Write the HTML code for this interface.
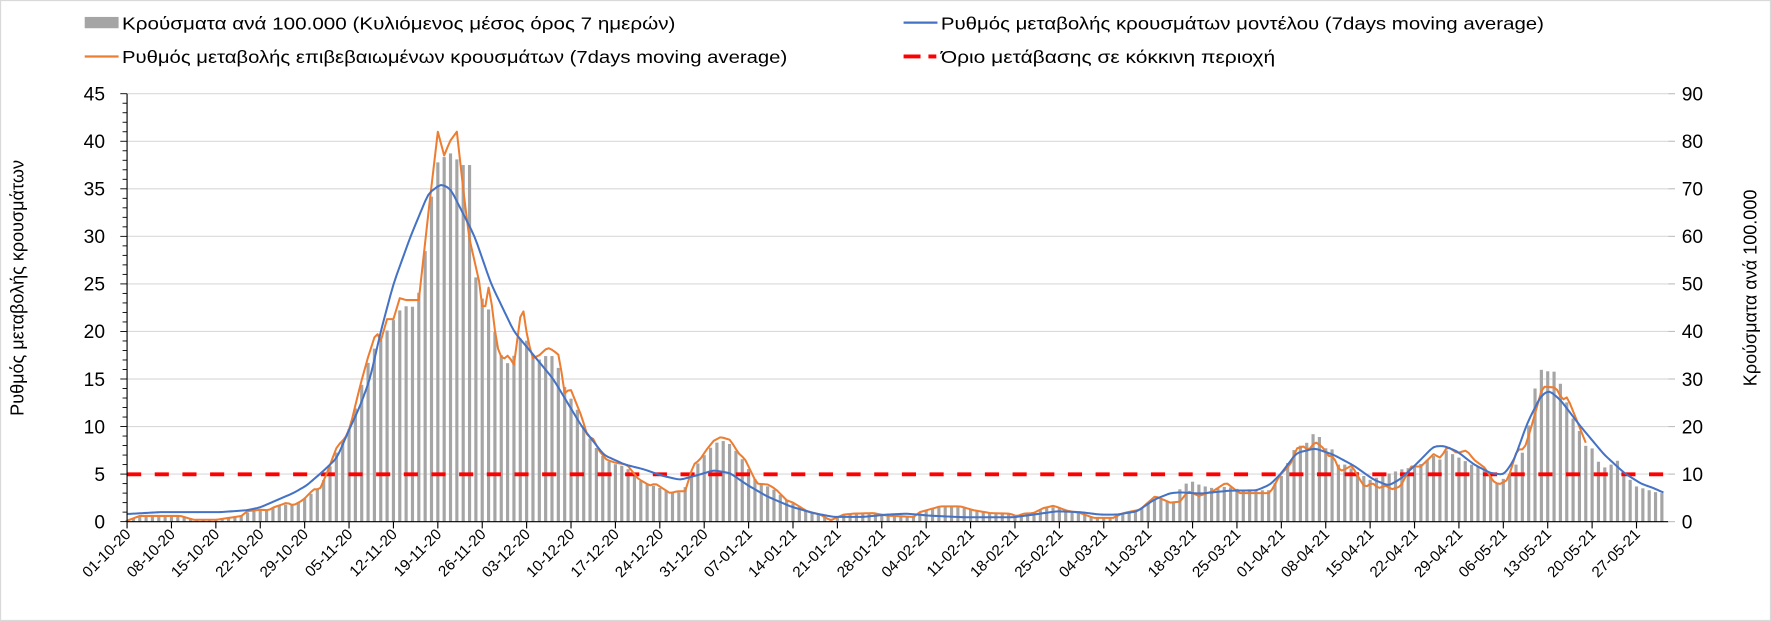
<!DOCTYPE html>
<html><head><meta charset="utf-8"><style>
html,body{margin:0;padding:0;background:#fff;}
svg{display:block;font-family:"Liberation Sans",Arial,sans-serif;}
</style></head><body>
<svg id="c" width="1771" height="621" viewBox="0 0 1568 550" preserveAspectRatio="none" xmlns="http://www.w3.org/2000/svg">
<rect x="0.5" y="0.5" width="1567" height="549" fill="#fff" stroke="#d9d9d9"/>
<g id="grid"></g>
<g id="bars" fill="#a5a5a5"></g>
<line x1="112.5" y1="420.1" x2="1477" y2="420.1" stroke="#ff0000" stroke-width="3.5" stroke-dasharray="12.5 12"/>
<path id="orange" fill="none" stroke="#ed7d31" stroke-width="1.8" stroke-linejoin="round"/>
<path id="blue" fill="none" stroke="#4472c4" stroke-width="1.8" stroke-linejoin="round"/>
<g id="axes"></g>
<g font-size="15.5" fill="#000">
<rect x="75" y="15" width="30" height="10" fill="#a5a5a5"/>
<text x="108" y="26" textLength="490" lengthAdjust="spacingAndGlyphs">Κρούσματα ανά 100.000 (Κυλιόμενος μέσος όρος 7 ημερών)</text>
<line x1="800" y1="20" x2="830" y2="20" stroke="#4472c4" stroke-width="2"/>
<text x="833" y="26" textLength="534" lengthAdjust="spacingAndGlyphs">Ρυθμός μεταβολής κρουσμάτων μοντέλου (7days moving average)</text>
<line x1="75" y1="50" x2="105" y2="50" stroke="#ed7d31" stroke-width="2"/>
<text x="108" y="56" textLength="589" lengthAdjust="spacingAndGlyphs">Ρυθμός μεταβολής επιβεβαιωμένων κρουσμάτων (7days moving average)</text>
<line x1="800" y1="50" x2="815" y2="50" stroke="#ff0000" stroke-width="3.5"/>
<line x1="822" y1="50" x2="829" y2="50" stroke="#ff0000" stroke-width="3.5"/>
<text x="833" y="56" textLength="296" lengthAdjust="spacingAndGlyphs">Όριο μετάβασης σε κόκκινη περιοχή</text>
<text transform="translate(21,255) rotate(-90)" text-anchor="middle" font-size="16">Ρυθμός μεταβολής κρουσμάτων</text>
<text transform="translate(1555,255) rotate(-90)" text-anchor="middle" font-size="16">Κρούσματα ανά 100.000</text>
</g>
</svg>
<script>
(function(){
var NS="http://www.w3.org/2000/svg";
var X0=112.5,X1=1477,Y0=462,YT=83,N=243,DW=(X1-X0)/N;
function Y(v){return Y0-(Y0-YT)*v/45;}
function X(d){return X0+d*DW;}
function el(p,t,a,txt){var e=document.createElementNS(NS,t);for(var k in a)e.setAttribute(k,a[k]);if(txt!=null)e.textContent=txt;p.appendChild(e);return e;}
var grid=document.getElementById('grid'),axes=document.getElementById('axes');
for(var v=5;v<=45;v+=5){el(grid,'line',{x1:X0,x2:X1,y1:Y(v),y2:Y(v),stroke:'#d9d9d9','stroke-width':1});}
el(axes,'line',{x1:X0,x2:X0,y1:YT,y2:Y0,stroke:'#000','stroke-width':1});
el(axes,'line',{x1:X0,x2:X1,y1:Y0,y2:Y0,stroke:'#000','stroke-width':1});
for(var v=0;v<=45;v++){var maj=v%5==0;el(axes,'line',{x1:X0-(maj?6:4),x2:X0,y1:Y(v),y2:Y(v),stroke:'#000','stroke-width':0.8});
 if(maj){el(axes,'text',{x:93,y:Y(v)+6,'text-anchor':'end','font-size':17},String(v));
  el(axes,'line',{x1:X1,x2:X1+6,y1:Y(v),y2:Y(v),stroke:'#bfbfbf','stroke-width':1});
  el(axes,'text',{x:1489,y:Y(v)+6,'font-size':17},String(v*2));}}
var labs=["01-10-20","08-10-20","15-10-20","22-10-20","29-10-20","05-11-20","12-11-20","19-11-20","26-11-20","03-12-20","10-12-20","17-12-20","24-12-20","31-12-20","07-01-21","14-01-21","21-01-21","28-01-21","04-02-21","11-02-21","18-02-21","25-02-21","04-03-21","11-03-21","18-03-21","25-03-21","01-04-21","08-04-21","15-04-21","22-04-21","29-04-21","06-05-21","13-05-21","20-05-21","27-05-21"];
for(var i=0;i<labs.length;i++){var x=X0+i*7*DW;el(axes,'line',{x1:x,x2:x,y1:Y0,y2:Y0+6,stroke:'#000','stroke-width':1});
 el(axes,'text',{transform:'translate('+(x+4)+','+(Y0+12)+') rotate(-45)','text-anchor':'end','font-size':13.5},labs[i]);}
function interp(k,d){if(d<=k[0][0])return k[0][1];for(var i=1;i<k.length;i++){if(d<=k[i][0]){var a=k[i-1],b=k[i];return a[1]+(b[1]-a[1])*(d-a[0])/(b[0]-a[0]);}}return k[k.length-1][1];}
var blueK=[[0,0.8],[5.2,1.0],[14.7,1.0],[18.9,1.2],[21,1.5],[24.1,2.4],[26.2,3.0],[28.3,3.8],[30.9,5.3],[33.1,6.7],[34.7,9.2],[36.7,12.1],[38.3,15],[40,20],[42,25],[44.7,30],[47.5,34.5],[49.5,35.5],[51,35],[54.8,30],[57.4,25],[61,20],[67.2,15],[71.7,10],[75.2,7],[78.5,6],[81.5,5.5],[84.5,4.8],[87.2,4.4],[90,4.9],[92.5,5.4],[95.1,5.1],[97.7,3.9],[100.9,2.66],[104.6,1.6],[108.2,0.9],[111.4,0.5],[116.1,0.5],[119.8,0.74],[122.9,0.84],[126.6,0.63],[131.9,0.46],[139.7,0.46],[142.9,0.74],[146.6,1.09],[150.3,1.0],[153.4,0.74],[156.1,0.74],[159.3,1.09],[161.9,2.3],[164.5,3.0],[166,3.08],[169.2,2.95],[173.9,3.26],[178.1,3.29],[180.2,3.89],[181.8,4.94],[184.4,7.22],[187.3,7.7],[190.2,7.04],[193.4,5.9],[196.6,4.4],[198.9,3.78],[200.8,4.5],[202.9,5.8],[206,7.9],[207.6,7.97],[209.7,7.4],[212.4,6.0],[215,5.1],[217.1,4.94],[218.7,6.5],[220.8,10.4],[222.9,13.2],[224.2,13.8],[226,12.8],[229.2,10.0],[232.9,7.05],[236.1,5.1],[238.7,4.0],[240.8,3.5],[242.4,3.0]];
var orK=[[0,0.1],[2,0.6],[8.4,0.6],[10.5,0.2],[14.1,0.2],[18.1,0.6],[18.9,1.1],[21,1.25],[22.3,1.2],[23.1,1.5],[24.4,1.8],[25.2,2.0],[26.2,1.7],[27.8,2.3],[29.4,3.4],[30.4,3.4],[31.5,5.1],[33.1,7.9],[34.4,8.8],[35.2,10],[36.2,12.8],[37,14.9],[38,17.3],[39.3,20],[40,19],[41,21.3],[42,21.3],[43,23.5],[44,23.3],[46,23.3],[47.6,33],[49,41],[50,38.5],[50.9,40],[52,41],[53,35],[53.9,30],[55.6,25],[56.2,21.5],[57.1,25],[58.3,18.5],[59.2,17],[60.1,17.5],[61,16.5],[62.3,23],[63.2,19],[64,17.2],[65,17.5],[66.3,18.3],[67.2,18],[68.1,17.5],[69,13.5],[69.9,14],[70.8,12.5],[71.7,11],[72.6,9],[73.5,8.7],[74.4,7.5],[75.6,6.5],[77,6.2],[78.8,6.0],[80.6,4.5],[82.4,3.8],[83.3,4.0],[85.6,3.0],[86.8,3.2],[88,3.2],[89.3,6.0],[90.3,6.5],[91.4,7.6],[92.5,8.5],[93.6,8.9],[95.1,8.6],[96.4,7.2],[97.4,6.6],[99.3,4.0],[101.1,3.9],[102.3,3.4],[104,2.25],[105,2.0],[107.2,1.1],[109.3,0.74],[110.9,0.14],[113,0.74],[114.5,0.84],[117.7,0.9],[119.8,0.63],[124,0.5],[125,1.0],[128.2,1.6],[131.4,1.6],[133.5,1.2],[136.1,0.9],[139.2,0.84],[140.3,0.56],[141.3,0.84],[142.9,0.9],[144.5,1.43],[146.1,1.67],[148.2,1.15],[150.3,0.9],[152.4,0.4],[155.5,0.4],[157.1,0.9],[159.7,1.26],[162.1,2.67],[164.5,2.0],[166,2.1],[167.3,3.2],[169,2.7],[171.2,3.2],[173.3,4.1],[175.4,3.0],[180.2,3.0],[181.8,4.9],[183.4,6.0],[184.4,7.7],[185.5,7.9],[186.3,7.5],[187.3,8.4],[188.4,7.9],[189.4,6.9],[190.2,6.9],[191.2,5.3],[192,5.5],[193.1,5.9],[194.5,4.3],[195.2,3.6],[196.3,4.1],[197.3,3.5],[198.4,3.8],[199.4,3.4],[200.8,3.7],[202.4,5.8],[204,5.8],[206,7.1],[207.1,6.7],[208.2,7.9],[209.7,7.2],[211.2,7.5],[212.4,6.5],[214.2,5.6],[215.3,4.3],[216.3,3.9],[217.7,4.4],[219.2,7.6],[220.3,7.6],[221.3,9.7],[223.2,14.2],[225.3,14.1],[226.3,12.8],[227.1,13.1],[230,8.3]];
var barLate=[[166,3.4],[167.5,4.3],[168.5,4.1],[169.5,3.7],[170.5,3.7],[171.5,3.4],[173.3,3.7],[176,3.3],[180,3.3],[182,4.8],[184.2,7.8],[185.9,8.2],[187,9.2],[188,8.9],[189.1,7.6],[190,7.6],[191,6.0],[192,6.0],[196,4.4],[201,5.5],[203.4,5.8],[205,6.5],[206,6.9],[207.1,6.5],[208.2,7.7],[209,7.1],[212,6.0],[214,5.6],[216,4.0],[218,5.0],[219.5,6.5],[220.5,8.0],[221.8,13.5],[222.8,16.0],[223.9,15.8],[224.9,15.9],[226,14.5],[226.8,12.9],[227.8,11.1],[228.9,9.7],[229.9,8.0],[231,7.7],[232,6.3],[233,5.7],[234,6.0],[235,6.4],[236,4.9],[237,4.4],[238,3.7],[239,3.5],[240,3.3],[241,3.1],[242,3.0]];
var bl='';for(var d=0;d<=242.4;d+=0.25){var v=(interp(blueK,d-0.5)+2*interp(blueK,d)+interp(blueK,d+0.5))/4;bl+=(d?'L':'M')+X(d).toFixed(2)+' '+Y(v).toFixed(2);}
document.getElementById('blue').setAttribute('d',bl);
var op='';for(var d=0;d<=230;d+=0.5){op+=(d?'L':'M')+X(d).toFixed(2)+' '+Y(interp(orK,d)).toFixed(2);}
document.getElementById('orange').setAttribute('d',op);
var bars=document.getElementById('bars');
for(var d=0;d<N;d++){var v;
 if(d>=166) v=interp(barLate,d);
 else {v=(interp(orK,d-1)+interp(orK,d)*2+interp(orK,d+1))/4*0.97; if(d>=49&&d<=54)v=Math.min(Math.max(v,37.5),39.5);}
 var h=(Y0-Y(v));
 el(bars,'rect',{x:(X(d)-1.4).toFixed(2),y:(Y0-h).toFixed(2),width:2.8,height:h.toFixed(2)});}
})();
</script>
</body></html>
